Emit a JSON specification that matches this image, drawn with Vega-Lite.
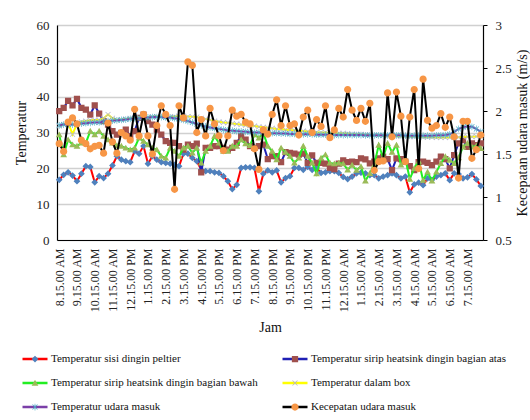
{
  "$schema": "https://vega.github.io/schema/vega-lite/v6.json",
  "width": 426,
  "height": 215,
  "autosize": {"type": "none"},
  "padding": {"left": 57, "top": 25, "right": 47, "bottom": 180},
  "background": "white",
  "config": {
    "view": {"stroke": null},
    "axisY": {"labelFont": "Liberation Serif", "labelFontSize": 13, "labelColor": "#222", "labelPadding": 8,
      "titleFont": "Liberation Serif", "titleFontSize": 14, "titleFontWeight": "normal", "titleColor": "#111",
      "domainColor": "#000", "domainWidth": 1.2, "labelOverlap": false},
    "axisLeft": {"ticks": false, "grid": true, "gridColor": "#D0D0D0", "gridWidth": 1.5, "titlePadding": 8},
    "axisRight": {"ticks": true, "tickSize": 4, "tickColor": "#000", "grid": false, "titlePadding": 4}
  },
  "data": {"values": [
    {"jam":"8.15.00 AM","a":16.8,"b":36,"c":29.4,"d":31.8,"e":32,"f":1.62},
    {"jam":"8.30.00 AM","a":18.2,"b":36.9,"c":23.8,"d":32.2,"e":32.2,"f":1.53},
    {"jam":"8.45.00 AM","a":18.9,"b":38.8,"c":28,"d":32.8,"e":32.3,"f":1.87},
    {"jam":"9.00.00 AM","a":18,"b":37.6,"c":26.6,"d":29.5,"e":32.2,"f":1.92},
    {"jam":"9.15.00 AM","a":16.4,"b":39.4,"c":26.2,"d":32.5,"e":32.4,"f":1.85},
    {"jam":"9.30.00 AM","a":18.5,"b":36.9,"c":27.1,"d":33,"e":32.5,"f":1.66},
    {"jam":"9.45.00 AM","a":20.6,"b":36.4,"c":27.1,"d":33.2,"e":32.6,"f":1.62},
    {"jam":"10.00.00 AM","a":20.4,"b":35,"c":30.4,"d":33.4,"e":32.7,"f":1.56},
    {"jam":"10.15.00 AM","a":16.1,"b":37.6,"c":29.4,"d":33.5,"e":32.8,"f":1.59},
    {"jam":"10.30.00 AM","a":17.8,"b":35.3,"c":30.4,"d":33.5,"e":32.8,"f":1.6},
    {"jam":"10.45.00 AM","a":17.3,"b":33.2,"c":29,"d":34,"e":33,"f":1.51},
    {"jam":"11.00.00 AM","a":18.5,"b":32.2,"c":28,"d":35,"e":33.2,"f":1.86},
    {"jam":"11.15.00 AM","a":20.8,"b":30.4,"c":27.1,"d":34,"e":33.3,"f":1.64},
    {"jam":"11.30.00 AM","a":23.4,"b":29.4,"c":26.4,"d":33.5,"e":33.4,"f":1.51},
    {"jam":"11.45.00 AM","a":22.4,"b":29.9,"c":26.2,"d":33.6,"e":33.5,"f":1.75},
    {"jam":"12.00.00 PM","a":22,"b":30.8,"c":25.7,"d":33.8,"e":33.6,"f":1.71},
    {"jam":"12.15.00 PM","a":21.7,"b":29,"c":25.2,"d":34,"e":33.8,"f":1.66},
    {"jam":"12.30.00 PM","a":24.8,"b":30.4,"c":25.7,"d":34,"e":34,"f":2.02},
    {"jam":"12.45.00 PM","a":24.1,"b":34.1,"c":28.5,"d":34.2,"e":34,"f":1.71},
    {"jam":"1.00.00 PM","a":26.2,"b":35,"c":27.6,"d":34,"e":34.2,"f":1.96},
    {"jam":"1.15.00 PM","a":21.3,"b":33.2,"c":26.6,"d":34.2,"e":34.2,"f":1.71},
    {"jam":"1.30.00 PM","a":23.4,"b":32.2,"c":25.7,"d":34.4,"e":34.3,"f":1.5},
    {"jam":"1.45.00 PM","a":22.4,"b":30.8,"c":25.2,"d":34.5,"e":34.3,"f":1.83},
    {"jam":"2.00.00 PM","a":21.7,"b":29.4,"c":23.4,"d":34.4,"e":34.3,"f":2.06},
    {"jam":"2.15.00 PM","a":21.5,"b":27.6,"c":22.9,"d":34.3,"e":34.2,"f":1.96},
    {"jam":"2.30.00 PM","a":21.3,"b":27.1,"c":25.7,"d":34.4,"e":34.2,"f":1.83},
    {"jam":"2.45.00 PM","a":21,"b":27.1,"c":24.8,"d":34.5,"e":34,"f":1.09},
    {"jam":"3.00.00 PM","a":20.6,"b":26.2,"c":23.4,"d":34.6,"e":33.8,"f":2.06},
    {"jam":"3.15.00 PM","a":24.1,"b":25.2,"c":25.7,"d":34.6,"e":33.5,"f":1.92},
    {"jam":"3.30.00 PM","a":24.1,"b":26.6,"c":26.2,"d":34.5,"e":33.2,"f":2.57},
    {"jam":"3.45.00 PM","a":22.9,"b":26.2,"c":24.3,"d":34.4,"e":32.8,"f":2.53},
    {"jam":"4.00.00 PM","a":22,"b":26.9,"c":25.7,"d":34.3,"e":32.4,"f":1.75},
    {"jam":"4.15.00 PM","a":19.6,"b":18.9,"c":21.5,"d":34,"e":32,"f":1.9},
    {"jam":"4.30.00 PM","a":19.2,"b":25.7,"c":24.8,"d":33.8,"e":31.7,"f":1.71},
    {"jam":"4.45.00 PM","a":19.2,"b":25.7,"c":26.2,"d":33.5,"e":31.4,"f":2.03},
    {"jam":"5.00.00 PM","a":18.9,"b":26.2,"c":29,"d":33.2,"e":31.2,"f":1.85},
    {"jam":"5.15.00 PM","a":18.7,"b":26.2,"c":27.1,"d":33,"e":31,"f":1.71},
    {"jam":"5.30.00 PM","a":17.8,"b":25.7,"c":24.8,"d":32.8,"e":30.8,"f":1.54},
    {"jam":"5.45.00 PM","a":16.4,"b":25.2,"c":24.8,"d":32.7,"e":30.6,"f":1.71},
    {"jam":"6.00.00 PM","a":14.2,"b":25.7,"c":26.2,"d":32.5,"e":30.5,"f":2.01},
    {"jam":"6.15.00 PM","a":15.4,"b":27.1,"c":26.2,"d":32.4,"e":30.4,"f":1.94},
    {"jam":"6.30.00 PM","a":20.1,"b":29,"c":28,"d":32.2,"e":30.3,"f":1.96},
    {"jam":"6.45.00 PM","a":20.3,"b":28,"c":26.9,"d":32,"e":30.2,"f":1.87},
    {"jam":"7.00.00 PM","a":20.3,"b":26.2,"c":26.4,"d":31.9,"e":30.1,"f":1.85},
    {"jam":"7.15.00 PM","a":20.1,"b":25.7,"c":29.4,"d":31.8,"e":30,"f":1.56},
    {"jam":"7.30.00 PM","a":13.6,"b":26.2,"c":28.5,"d":31.6,"e":30,"f":1.32},
    {"jam":"7.45.00 PM","a":18.5,"b":26.6,"c":29.9,"d":31.5,"e":29.9,"f":1.78},
    {"jam":"8.00.00 PM","a":19.4,"b":22.6,"c":26.2,"d":31.3,"e":29.9,"f":1.73},
    {"jam":"8.15.00 PM","a":18.9,"b":23.4,"c":24.8,"d":31.2,"e":29.8,"f":1.96},
    {"jam":"8.30.00 PM","a":19.4,"b":23.4,"c":22.4,"d":31,"e":29.8,"f":2.13},
    {"jam":"8.45.00 PM","a":16.1,"b":21.7,"c":25.7,"d":30.9,"e":29.7,"f":1.83},
    {"jam":"9.00.00 PM","a":17.3,"b":24.5,"c":24.5,"d":30.8,"e":29.7,"f":2.06},
    {"jam":"9.15.00 PM","a":17.8,"b":24.3,"c":23.4,"d":30.7,"e":29.6,"f":1.83},
    {"jam":"9.30.00 PM","a":20.1,"b":24.1,"c":21.5,"d":30.6,"e":29.6,"f":1.85},
    {"jam":"9.45.00 PM","a":20.1,"b":23.8,"c":22.9,"d":30.5,"e":29.6,"f":1.72},
    {"jam":"10.00.00 PM","a":19.6,"b":24.1,"c":26.2,"d":30.4,"e":29.5,"f":1.93},
    {"jam":"10.15.00 PM","a":20.4,"b":21.5,"c":23.4,"d":30.3,"e":29.5,"f":2.01},
    {"jam":"10.30.00 PM","a":19.6,"b":23.6,"c":21.5,"d":30.2,"e":29.5,"f":1.75},
    {"jam":"10.45.00 PM","a":20.1,"b":21.5,"c":18.5,"d":30.1,"e":29.4,"f":1.9},
    {"jam":"11.00.00 PM","a":18.7,"b":21.5,"c":22.9,"d":30,"e":29.4,"f":1.82},
    {"jam":"11.15.00 PM","a":18.9,"b":21.3,"c":23.8,"d":30,"e":29.4,"f":2.06},
    {"jam":"11.30.00 PM","a":19.2,"b":20.1,"c":21.5,"d":29.9,"e":29.4,"f":1.69},
    {"jam":"11.45.00 PM","a":19.2,"b":19.8,"c":21.3,"d":29.9,"e":29.3,"f":1.78},
    {"jam":"12.00.00 AM","a":18.7,"b":21.3,"c":21.5,"d":29.8,"e":29.3,"f":2.03},
    {"jam":"12.15.00 AM","a":17.6,"b":22.2,"c":21.3,"d":29.8,"e":29.3,"f":1.93},
    {"jam":"12.30.00 AM","a":17,"b":21.7,"c":19.6,"d":29.7,"e":29.3,"f":2.25},
    {"jam":"12.45.00 AM","a":17.7,"b":21.9,"c":20.9,"d":29.6,"e":29.3,"f":2.01},
    {"jam":"1.00.00 AM","a":18.6,"b":21.7,"c":19.5,"d":29.5,"e":29.3,"f":1.89},
    {"jam":"1.15.00 AM","a":18.8,"b":22.8,"c":20.5,"d":29.5,"e":29.3,"f":2.03},
    {"jam":"1.30.00 AM","a":18.6,"b":22.5,"c":16.5,"d":29.4,"e":29.2,"f":1.88},
    {"jam":"1.45.00 AM","a":18.1,"b":21.4,"c":18.6,"d":29.3,"e":29.2,"f":2.09},
    {"jam":"2.00.00 AM","a":18.1,"b":21.9,"c":21,"d":29.2,"e":29.2,"f":1.31},
    {"jam":"2.15.00 AM","a":17.2,"b":22.8,"c":26.5,"d":29.2,"e":29.2,"f":1.41},
    {"jam":"2.30.00 AM","a":17.7,"b":23.3,"c":23,"d":29.1,"e":29.2,"f":1.42},
    {"jam":"2.45.00 AM","a":18.1,"b":22.6,"c":27,"d":29,"e":29.2,"f":2.21},
    {"jam":"3.00.00 AM","a":18.6,"b":19.5,"c":24.5,"d":29,"e":29.2,"f":1.7},
    {"jam":"3.15.00 AM","a":18.1,"b":22.8,"c":26.5,"d":29,"e":29.2,"f":2.22},
    {"jam":"3.30.00 AM","a":17.2,"b":22.6,"c":21,"d":28.9,"e":29.2,"f":1.94},
    {"jam":"3.45.00 AM","a":17.7,"b":21.9,"c":22.8,"d":28.9,"e":29.1,"f":1.41},
    {"jam":"4.00.00 AM","a":13.3,"b":20.6,"c":17,"d":28.8,"e":29.1,"f":1.93},
    {"jam":"4.15.00 AM","a":15.5,"b":19.5,"c":20,"d":28.8,"e":29.1,"f":2.25},
    {"jam":"4.30.00 AM","a":16,"b":21.7,"c":22,"d":28.8,"e":29.1,"f":1.33},
    {"jam":"4.45.00 AM","a":15.3,"b":21.9,"c":16.7,"d":28.7,"e":29.1,"f":2.37},
    {"jam":"5.00.00 AM","a":17.2,"b":21.5,"c":19,"d":28.7,"e":29.1,"f":1.89},
    {"jam":"5.15.00 AM","a":16.8,"b":20.9,"c":16.5,"d":28.7,"e":29.1,"f":1.8},
    {"jam":"5.30.00 AM","a":17.7,"b":21.9,"c":19,"d":28.6,"e":29.2,"f":1.83},
    {"jam":"5.45.00 AM","a":18.1,"b":23.3,"c":21.4,"d":28.6,"e":29.2,"f":1.97},
    {"jam":"6.00.00 AM","a":18.6,"b":22.6,"c":23.3,"d":28.6,"e":29.3,"f":1.81},
    {"jam":"6.15.00 AM","a":16.7,"b":20,"c":22.3,"d":28.6,"e":29.5,"f":1.93},
    {"jam":"6.30.00 AM","a":18.6,"b":23.7,"c":21.4,"d":28.7,"e":30.2,"f":1.7},
    {"jam":"6.45.00 AM","a":18.4,"b":27,"c":23,"d":28.7,"e":31,"f":1.22},
    {"jam":"7.00.00 AM","a":17.2,"b":27.9,"c":26,"d":28.8,"e":31.5,"f":1.88},
    {"jam":"7.15.00 AM","a":17.5,"b":26,"c":27,"d":28.8,"e":31.7,"f":1.88},
    {"jam":"7.30.00 AM","a":18.4,"b":27,"c":26,"d":28.8,"e":31.6,"f":1.45},
    {"jam":"7.45.00 AM","a":16.9,"b":26.5,"c":26.3,"d":28.9,"e":31,"f":1.55},
    {"jam":"8.00.00 AM","a":15.1,"b":27,"c":25.6,"d":29,"e":30.2,"f":1.72}
  ]},
  "encoding": {
    "x": {
      "field": "jam", "type": "ordinal", "sort": null,
      "scale": {"type": "point", "padding": 0.5},
      "axis": {
        "title": "Jam", "titleFont": "Liberation Serif", "titleFontSize": 14, "titleFontWeight": "normal", "titleColor": "#111", "titlePadding": 8,
        "labelFont": "Liberation Serif", "labelFontSize": 12, "labelColor": "#222", "labelAngle": -90, "labelPadding": 8,
        "ticks": false, "domainColor": "#000", "domainWidth": 1.2, "grid": false,
        "values": ["8.15.00 AM","9.15.00 AM","10.15.00 AM","11.15.00 AM","12.15.00 PM","1.15.00 PM","2.15.00 PM","3.15.00 PM","4.15.00 PM","5.15.00 PM","6.15.00 PM","7.15.00 PM","8.15.00 PM","9.15.00 PM","10.15.00 PM","11.15.00 PM","12.15.00 AM","1.15.00 AM","2.15.00 AM","3.15.00 AM","4.15.00 AM","5.15.00 AM","6.15.00 AM","7.15.00 AM"]
      }
    }
  },
  "layer": [
    {
      "layer": [
        {
          "mark": {"type": "line", "strokeWidth": 2},
          "encoding": {
            "y": {"field": "a", "type": "quantitative", "scale": {"domain": [0, 60], "nice": false},
              "axis": {"orient": "left", "title": "Temperatur", "values": [0,10,20,30,40,50,60]}},
            "stroke": {"datum": "a", "type": "nominal",
              "scale": {"domain": ["a","b","c","d","e","f"], "range": ["#FF0000","#1F1FB4","#22EE22","#FFFF00","#7B3FA8","#000000"]},
              "legend": {"orient": "none", "legendX": -36, "legendY": 327, "direction": "horizontal", "columns": 2, "title": null, "padding": 0,
                "symbolType": "stroke", "symbolSize": 625, "symbolStrokeWidth": 2.5, "clipHeight": 14,
                "labelFont": "Liberation Serif", "labelFontSize": 11, "labelColor": "#111", "labelOffset": 2, "labelLimit": 400,
                "columnPadding": 23, "rowPadding": 10,
                "labelExpr": "datum.label == 'a' ? 'Temperatur sisi dingin peltier' : datum.label == 'b' ? 'Temperatur sirip heatsink dingin bagian atas' : datum.label == 'c' ? 'Temperatur sirip heatsink dingin bagian bawah' : datum.label == 'd' ? 'Temperatur dalam box' : datum.label == 'e' ? 'Temperatur udara masuk' : 'Kecepatan udara masuk'"}}
          }
        },
        {
          "mark": {"type": "point", "filled": true, "size": 625, "opacity": 1},
          "encoding": {
            "y": {"field": "a", "type": "quantitative", "axis": {"orient": "left", "title": "Temperatur", "values": [0,10,20,30,40,50,60]}},
            "shape": {"datum": "A", "type": "nominal",
              "scale": {"domain": ["A","B","C","D","E","F"], "range": [
                "M-1,0L1,0M0,-0.27L0.27,0L0,0.27L-0.27,0Z",
                "M-1,0L1,0M-0.25,-0.25H0.25V0.25H-0.25Z",
                "M-1,0L1,0M0,-0.26L0.27,0.21L-0.27,0.21Z",
                "M-1,0L1,0M-0.22,-0.18L-0.18,-0.22L0.22,0.18L0.18,0.22ZM0.18,-0.22L0.22,-0.18L-0.18,0.22L-0.22,0.18Z",
                "M-1,0L1,0M-0.22,-0.18L-0.18,-0.22L0.22,0.18L0.18,0.22ZM0.18,-0.22L0.22,-0.18L-0.18,0.22L-0.22,0.18ZM-0.025,-0.27H0.025V0.27H-0.025Z",
                "M-1,0L1,0M-0.29,0a0.29,0.29 0 1,0 0.58,0a0.29,0.29 0 1,0 -0.58,0Z"]},
              "legend": {"orient": "none", "legendX": -36, "legendY": 327, "direction": "horizontal", "columns": 2, "title": null, "padding": 0,
                "symbolSize": 625, "symbolStrokeWidth": 2.5, "symbolStrokeColor": "transparent", "clipHeight": 14,
                "labelFont": "Liberation Serif", "labelFontSize": 11, "labelOpacity": 0, "labelOffset": 2, "labelLimit": 400,
                "columnPadding": 23, "rowPadding": 10,
                "labelExpr": "datum.label == 'A' ? 'Temperatur sisi dingin peltier' : datum.label == 'B' ? 'Temperatur sirip heatsink dingin bagian atas' : datum.label == 'C' ? 'Temperatur sirip heatsink dingin bagian bawah' : datum.label == 'D' ? 'Temperatur dalam box' : datum.label == 'E' ? 'Temperatur udara masuk' : 'Kecepatan udara masuk'"}},
            "fill": {"datum": "A", "type": "nominal",
              "scale": {"domain": ["A","B","C","D","E","F"], "range": ["#4F81BD","#A0504D","#9BBB59","#B4B4CC","#4BACC6","#F79646"]},
              "legend": {"orient": "none", "legendX": -36, "legendY": 327, "direction": "horizontal", "columns": 2, "title": null, "padding": 0,
                "symbolSize": 625, "symbolStrokeWidth": 2.5, "symbolStrokeColor": "transparent", "clipHeight": 14,
                "labelFont": "Liberation Serif", "labelFontSize": 11, "labelOpacity": 0, "labelOffset": 2, "labelLimit": 400,
                "columnPadding": 23, "rowPadding": 10,
                "labelExpr": "datum.label == 'A' ? 'Temperatur sisi dingin peltier' : datum.label == 'B' ? 'Temperatur sirip heatsink dingin bagian atas' : datum.label == 'C' ? 'Temperatur sirip heatsink dingin bagian bawah' : datum.label == 'D' ? 'Temperatur dalam box' : datum.label == 'E' ? 'Temperatur udara masuk' : 'Kecepatan udara masuk'"}}
          }
        },
        {"mark": {"type": "line", "strokeWidth": 2}, "encoding": {"y": {"field": "b", "type": "quantitative", "axis": {"orient": "left", "title": "Temperatur", "values": [0,10,20,30,40,50,60]}}, "stroke": {"datum": "b"}}},
        {"mark": {"type": "point", "filled": true, "size": 625, "opacity": 1}, "encoding": {"y": {"field": "b", "type": "quantitative", "axis": {"orient": "left", "title": "Temperatur", "values": [0,10,20,30,40,50,60]}}, "shape": {"datum": "B"}, "fill": {"datum": "B"}}},
        {"mark": {"type": "line", "strokeWidth": 2}, "encoding": {"y": {"field": "c", "type": "quantitative", "axis": {"orient": "left", "title": "Temperatur", "values": [0,10,20,30,40,50,60]}}, "stroke": {"datum": "c"}}},
        {"mark": {"type": "point", "filled": true, "size": 625, "opacity": 1}, "encoding": {"y": {"field": "c", "type": "quantitative", "axis": {"orient": "left", "title": "Temperatur", "values": [0,10,20,30,40,50,60]}}, "shape": {"datum": "C"}, "fill": {"datum": "C"}}},
        {"mark": {"type": "line", "strokeWidth": 2}, "encoding": {"y": {"field": "d", "type": "quantitative", "axis": {"orient": "left", "title": "Temperatur", "values": [0,10,20,30,40,50,60]}}, "stroke": {"datum": "d"}}},
        {"mark": {"type": "point", "filled": true, "size": 625, "opacity": 1}, "encoding": {"y": {"field": "d", "type": "quantitative", "axis": {"orient": "left", "title": "Temperatur", "values": [0,10,20,30,40,50,60]}}, "shape": {"datum": "D"}, "fill": {"datum": "D"}}},
        {"mark": {"type": "line", "strokeWidth": 2}, "encoding": {"y": {"field": "e", "type": "quantitative", "axis": {"orient": "left", "title": "Temperatur", "values": [0,10,20,30,40,50,60]}}, "stroke": {"datum": "e"}}},
        {"mark": {"type": "point", "filled": true, "size": 625, "opacity": 1}, "encoding": {"y": {"field": "e", "type": "quantitative", "axis": {"orient": "left", "title": "Temperatur", "values": [0,10,20,30,40,50,60]}}, "shape": {"datum": "E"}, "fill": {"datum": "E"}}}
      ]
    },
    {
      "layer": [
        {
          "mark": {"type": "line", "strokeWidth": 2},
          "encoding": {
            "y": {"field": "f", "type": "quantitative", "scale": {"domain": [0.5, 3], "nice": false},
              "axis": {"orient": "right", "title": "Kecepatan udara masuk (m/s)", "titleAngle": -90, "titleBaseline": "top", "values": [0.5,1,1.5,2,2.5,3], "format": "~g"}},
            "stroke": {"datum": "f"}
          }
        },
        {
          "mark": {"type": "point", "filled": true, "size": 625, "opacity": 1},
          "encoding": {
            "y": {"field": "f", "type": "quantitative", "axis": {"orient": "right", "title": "Kecepatan udara masuk (m/s)", "titleAngle": -90, "titleBaseline": "top", "values": [0.5,1,1.5,2,2.5,3], "format": "~g"}},
            "shape": {"datum": "F"}, "fill": {"datum": "F"}
          }
        }
      ]
    }
  ],
  "resolve": {"scale": {"y": "independent"}, "axis": {"y": "independent"}}
}
